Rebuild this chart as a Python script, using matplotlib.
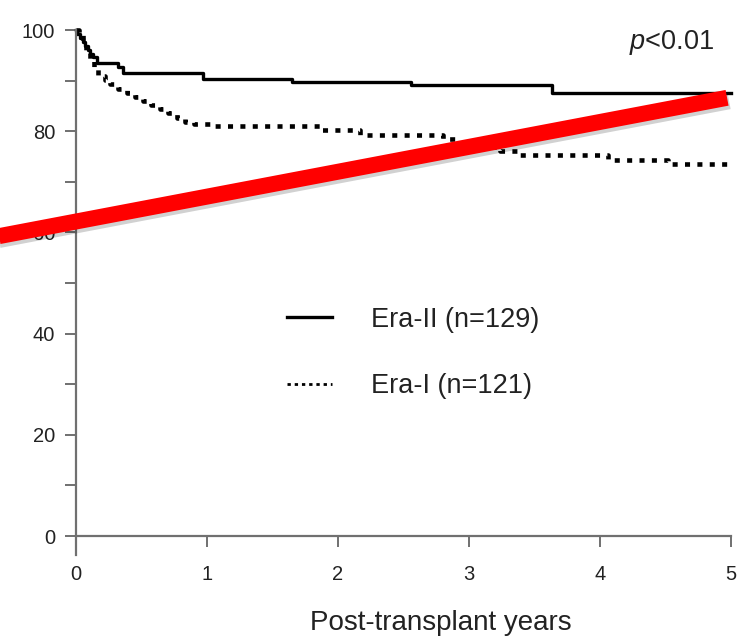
import numpy as np
import matplotlib.pyplot as plt
import matplotlib.patheffects as pe
from matplotlib.lines import Line2D

plt.rcParams['font.family'] = ['Liberation Sans', 'DejaVu Sans']
plt.rcParams['mathtext.fontset'] = 'custom'
plt.rcParams['mathtext.it'] = 'Liberation Sans:italic'
plt.rcParams['mathtext.rm'] = 'Liberation Sans'

# Kaplan-Meier steps (years, % surviving)
era2_t = [0, 0.01, 0.03, 0.05, 0.07, 0.09, 0.11, 0.13, 0.16, 0.32, 0.36, 0.97, 1.65, 2.56, 3.63]
era2_s = [100, 99.2, 98.4, 97.7, 96.9, 96.1, 95.3, 94.6, 93.4, 92.6, 91.5, 90.4, 89.8, 89.1, 87.5]

era1_t = [0, 0.02, 0.05, 0.08, 0.11, 0.14, 0.17, 0.22, 0.26, 0.32, 0.39, 0.45, 0.51, 0.57,
          0.64, 0.70, 0.77, 0.83, 0.90, 1.05, 1.88, 2.17, 2.80, 2.90, 3.05, 3.24, 3.37, 4.06, 4.52]
era1_s = [100, 99.2, 97.5, 95.9, 94.2, 92.6, 90.9, 90.1, 89.3, 88.4, 87.6, 86.8, 86.0, 85.1,
          84.3, 83.5, 82.6, 81.8, 81.5, 81.0, 80.2, 79.3, 78.5, 77.7, 76.9, 76.0, 75.2, 74.4, 73.6]

t_end = 5.0
labels = ['Era-II (n=129)', 'Era-I (n=121)']

# red strike-through line (x in years, y in %)
strike_x = [-0.62, 4.97]
strike_y = [59.1, 86.6]

fig = plt.figure(figsize=(7.41, 6.44), dpi=100)
ax = fig.add_axes([76/741, 1 - 536/644, 655/741, 506/644])

ax.step(era2_t + [t_end], era2_s + [era2_s[-1]], where='post', color='black',
        lw=2.4, clip_on=False)
ax.step(era1_t + [t_end], era1_s + [era1_s[-1]], where='post', color='black',
        lw=3.3, linestyle=(0, (1.1, 1.6)), dash_capstyle='butt', clip_on=False)

ax.set_xlim(0, 5)
ax.set_ylim(0, 100)
ax.set_xticks(np.arange(0, 6, 1))
ax.set_yticks(np.arange(0, 101, 20))
ax.set_yticks(np.arange(10, 100, 20), minor=True)

for side in ['top', 'right']:
    ax.spines[side].set_visible(False)
for side in ['left', 'bottom']:
    ax.spines[side].set_color('#707070')
    ax.spines[side].set_linewidth(1.6)
ax.spines['left'].set_bounds(-3.8, 100)

ax.tick_params(axis='both', which='both', direction='out', color='#707070', width=1.4,
               length=8, labelsize=14.5, labelcolor='#222222')
ax.tick_params(axis='x', pad=13)
ax.tick_params(axis='y', pad=7)

# legend keys: the dotted key uses finer dots than the curve itself
handles = [Line2D([], [], color='black', lw=2.4),
           Line2D([], [], color='black', lw=2.0, linestyle=(0, (1.2, 1.4)),
                  dash_capstyle='butt')]
leg = ax.legend(handles, labels, loc='center left', bbox_to_anchor=(0.322, 0.362),
                frameon=False, fontsize=19.5, handlelength=1.66, handletextpad=1.44,
                labelspacing=1.5, borderpad=0, borderaxespad=0)
for txt in leg.get_texts():
    txt.set_color('#222222')

ax.text(0.974, 0.976, r'$\it{p}$<0.01', transform=ax.transAxes, ha='right', va='center',
        fontsize=19.5, color='#222222')

fig.text(441/741, 1 - 630/644, 'Post-transplant years', ha='center', va='baseline',
         fontsize=20, color='#222222')

ax.plot(strike_x, strike_y, color='#ff0000', lw=11.5, solid_capstyle='butt', clip_on=False,
        zorder=5, path_effects=[pe.SimpleLineShadow(offset=(1.5, -2.5), shadow_color='black',
                                                    alpha=0.18),
                                pe.Normal()])

fig.savefig('out.png', dpi=100)
